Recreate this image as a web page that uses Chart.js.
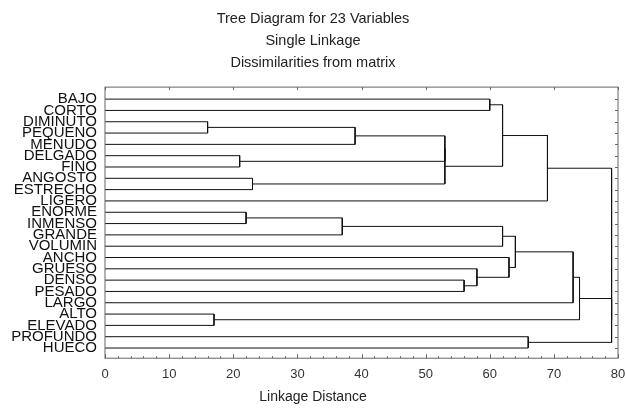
<!DOCTYPE html>
<html>
<head>
<meta charset="utf-8">
<script src="https://cdn.jsdelivr.net/npm/chart.js@4"></script>
<style>
  body { margin: 0; background: #fff; }
</style>
</head>
<body>
<canvas id="tree" width="626" height="412"></canvas>
<script>
// leaves, top to bottom as they appear in the diagram
const leaves = ['BAJO', 'CORTO', 'DIMINUTO', 'PEQUENO', 'MENUDO', 'DELGADO', 'FINO',
  'ANGOSTO', 'ESTRECHO', 'LIGERO', 'ENORME', 'INMENSO', 'GRANDE', 'VOLUMIN',
  'ANCHO', 'GRUESO', 'DENSO', 'PESADO', 'LARGO', 'ALTO', 'ELEVADO', 'PROFUNDO', 'HUECO'];

// merge steps: index < 23 is a leaf, 23 + k is the cluster made at step k
const mergeLeft   = [2, 19, 5, 10, 7, 26, 23, 29, 30, 16, 15, 0, 34, 28, 14, 36, 21, 35, 38, 41, 42, 40];
const mergeRight  = [3, 20, 6, 11, 8, 12, 4, 25, 27, 17, 32, 1, 31, 13, 33, 37, 22, 9, 18, 24, 39, 43];
const mergeHeight = [16, 17, 21, 22, 23, 37, 39, 53, 53, 56, 58, 60, 62, 62, 63, 64, 66, 69, 73, 74, 79, 79];

const xTicks = [0, 10, 20, 30, 40, 50, 60, 70, 80];
const xMinorStep = 2;

const titleLines = ['Tree Diagram for 23 Variables', 'Single Linkage', 'Dissimilarities from matrix'];
const xTitle = 'Linkage Distance';

// build one bracket per merge
const pos = leaves.map((_, i) => i);
const height = leaves.map(() => 0);
const datasets = [];
mergeHeight.forEach((h, k) => {
    const a = mergeLeft[k], b = mergeRight[k];
    datasets.push({
        data: [
            { x: height[a], y: pos[a] },
            { x: h, y: pos[a] },
            { x: h, y: pos[b] },
            { x: height[b], y: pos[b] }
        ],
        showLine: true,
        borderColor: '#111',
        borderWidth: 1,
        pointRadius: 0,
        fill: false
    });
    pos.push((pos[a] + pos[b]) / 2);
    height.push(h);
});

// frame and inward tick marks
const framePlugin = {
    id: 'frame',
    afterDraw(chart) {
        const { ctx, chartArea: a, scales: { x, y } } = chart;
        ctx.save();
        ctx.strokeStyle = '#666';
        ctx.lineWidth = 1;
        ctx.strokeRect(a.left, a.top, a.right - a.left, a.bottom - a.top);
        ctx.beginPath();
        for (let v = 0; v <= 80; v += xMinorStep) {
            const px = Math.round(x.getPixelForValue(v)) + 0.5;
            const len = v % 10 === 0 ? 4 : 2;
            ctx.moveTo(px, a.bottom);
            ctx.lineTo(px, a.bottom - len);
        }
        xTicks.forEach(v => {
            const px = Math.round(x.getPixelForValue(v)) + 0.5;
            ctx.moveTo(px, a.top);
            ctx.lineTo(px, a.top + 3);
        });
        leaves.forEach((_, i) => {
            const py = Math.round(y.getPixelForValue(i)) + 0.5;
            ctx.moveTo(a.right, py);
            ctx.lineTo(a.right - 3, py);
        });
        ctx.stroke();
        ctx.restore();
    }
};

const ctx = document.getElementById('tree');
new Chart(ctx, {
    type: 'scatter',
    data: { datasets },
    options: {
        responsive: false,
        animation: false,
        layout: { padding: { left: 0, right: 0, top: 0, bottom: 0 } },
        plugins: {
            legend: { display: false },
            tooltip: { enabled: false },
            title: {
                display: true,
                text: titleLines,
                color: '#222',
                font: { family: 'Liberation Sans', size: 14.5, weight: 'normal', lineHeight: 1.52 },
                padding: { top: 8, bottom: 13 }
            },
            subtitle: {
                display: true,
                position: 'bottom',
                text: xTitle,
                color: '#222',
                font: { family: 'Liberation Sans', size: 14, weight: 'normal', lineHeight: 1.2 },
                padding: { top: 0, bottom: 6 }
            }
        },
        scales: {
            x: {
                type: 'linear',
                min: 0,
                max: 80,
                afterBuildTicks: s => { s.ticks = xTicks.map(v => ({ value: v })); },
                afterFit: s => {
                    s.height = 31;
                    s.paddingLeft = 0;
                    s.paddingRight = 8;
                },
                grid: { display: false, drawTicks: false },
                border: { display: false },
                ticks: {
                    color: '#333',
                    padding: 8,
                    font: { family: 'Liberation Sans', size: 13 }
                }
            },
            y: {
                type: 'linear',
                reverse: true,
                min: -1.06,
                max: 22.9,
                afterBuildTicks: s => { s.ticks = leaves.map((_, i) => ({ value: i })); },
                afterFit: s => { s.width = 105; },
                grid: { display: false, drawTicks: false },
                border: { display: false },
                ticks: {
                    autoSkip: false,
                    color: '#111',
                    padding: 8,
                    font: { family: 'Liberation Sans', size: 15 },
                    callback: v => leaves[v]
                }
            }
        }
    },
    plugins: [framePlugin]
});
</script>
</body>
</html>
